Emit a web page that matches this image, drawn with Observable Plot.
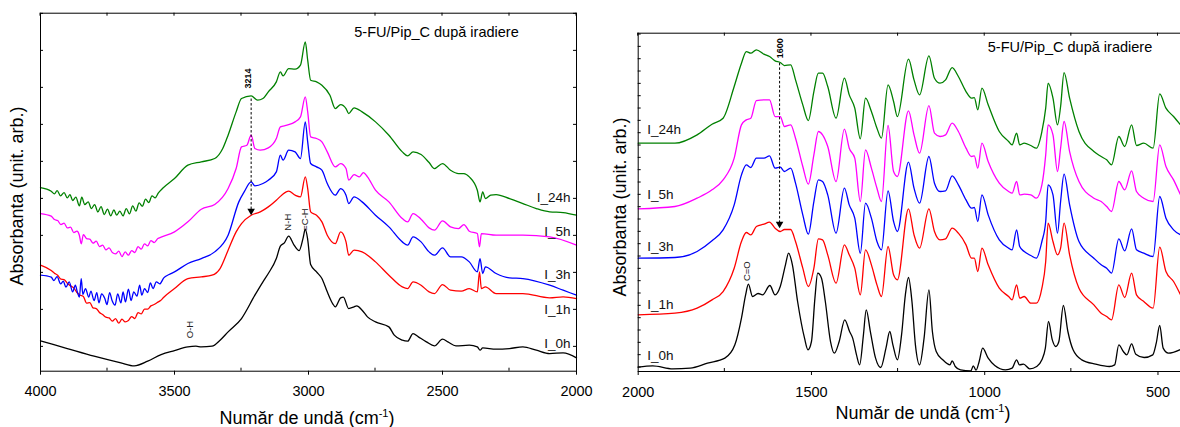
<!DOCTYPE html>
<html><head><meta charset="utf-8">
<script src="https://cdn.jsdelivr.net/npm/d3@7"></script>
<script src="https://cdn.jsdelivr.net/npm/@observablehq/plot@0.6"></script>
<style>
body{margin:0;background:#fff}
#wrap{position:relative;width:1180px;height:427px;overflow:hidden}
#wrap svg{position:absolute;top:0;overflow:visible;background:transparent}
</style>
</head><body><div id="wrap"></div>
<script>
// ---------- data: left panel (wavenumber cm-1, absorbance arb. units) ----------
const LEFT_XMAJOR = [4000, 3500, 3000, 2500, 2000];
const LEFT_XMINOR = [3750, 3250, 2750, 2250];
const RIGHT_XMAJOR = [2000, 1500, 1000, 500];
const RIGHT_XMINOR = [1750, 1250, 750];
const SERIES = ["I_0h", "I_1h", "I_3h", "I_5h", "I_24h"];
const COLORS = ["#000000", "#ff0000", "#0000ff", "#ff00ff", "#008000"];

const L_0h = [[4000,91],[3900,68],[3800,45],[3700,25],[3650,16],[3600,30],[3550,50],[3500,62],[3450,73],[3420,75],[3400,73],[3360,75],[3330,93],[3300,118],[3250,158],[3200,228],[3170,268],[3150,293],[3120,338],[3105,375],[3090,385],[3074,405],[3055,380],[3035,362],[3020,400],[3012,426],[3003,395],[2992,320],[2970,298],[2950,278],[2930,238],[2910,203],[2900,193],[2880,220],[2870,222],[2850,188],[2830,193],[2820,196],[2800,183],[2780,163],[2750,148],[2700,133],[2680,108],[2650,93],[2630,90],[2610,113],[2590,103],[2560,88],[2530,76],[2500,96],[2480,88],[2450,76],[2400,78],[2370,73],[2360,63],[2350,70],[2300,66],[2250,68],[2200,73],[2150,63],[2100,53],[2050,55],[2000,40]];
const L_1h = [[4000,318],[3960,302],[3948,294],[3936,288],[3924,276],[3912,275],[3900,264],[3888,256],[3876,250],[3864,236],[3852,228],[3840,224],[3828,204],[3816,206],[3804,190],[3792,188],[3780,176],[3768,170],[3756,162],[3744,160],[3732,150],[3720,158],[3708,144],[3696,156],[3684,148],[3672,152],[3660,164],[3648,158],[3636,176],[3624,172],[3612,186],[3600,186],[3588,196],[3576,200],[3564,206],[3552,212],[3540,222],[3500,248],[3450,278],[3400,283],[3360,288],[3330,308],[3300,363],[3270,418],[3250,443],[3214,468],[3180,478],[3150,493],[3120,513],[3100,528],[3074,540],[3050,528],[3030,523],[3012,583],[3003,548],[2992,478],[2970,468],[2950,448],[2930,408],[2900,383],[2880,418],[2860,388],[2850,348],[2830,363],[2800,358],[2750,328],[2700,288],[2650,253],[2630,248],[2610,268],[2580,258],[2550,238],[2530,233],[2500,260],[2470,243],[2430,240],[2400,248],[2370,238],[2362,298],[2355,248],[2340,253],[2300,233],[2200,233],[2100,220],[2050,223],[2000,218]];
const L_3h = [[4000,288],[3960,282],[3950,272],[3938,284],[3925,262],[3915,270],[3905,252],[3893,268],[3880,238],[3870,258],[3862,236],[3855,222],[3848,278],[3842,230],[3832,248],[3820,222],[3812,240],[3800,212],[3790,236],[3782,205],[3772,232],[3760,218],[3752,200],[3742,236],[3733,212],[3722,198],[3712,232],[3700,205],[3692,238],[3683,208],[3672,246],[3662,212],[3652,238],[3640,225],[3630,258],[3622,228],[3612,248],[3600,236],[3590,265],[3580,248],[3568,268],[3555,262],[3540,280],[3520,290],[3500,298],[3450,323],[3400,338],[3350,358],[3300,408],[3260,508],[3240,538],[3214,568],[3200,556],[3170,563],[3150,573],[3120,598],[3105,648],[3095,633],[3074,663],[3050,658],[3030,638],[3012,748],[3003,688],[2992,623],[2970,613],[2950,603],[2930,563],[2900,528],[2880,548],[2860,528],[2850,503],[2830,523],[2800,508],[2750,468],[2700,433],[2650,388],[2630,378],[2610,403],[2580,388],[2550,358],[2530,348],[2500,370],[2470,343],[2430,343],[2400,328],[2370,298],[2360,338],[2350,293],[2340,313],[2300,293],[2250,280],[2200,278],[2100,258],[2050,243],[2000,228]];
const L_5h = [[4000,473],[3960,465],[3948,455],[3936,452],[3924,440],[3912,444],[3900,430],[3888,432],[3876,416],[3864,420],[3855,408],[3848,382],[3840,410],[3828,398],[3816,396],[3804,384],[3792,390],[3780,374],[3768,378],[3756,364],[3744,370],[3732,356],[3720,352],[3708,360],[3696,344],[3684,358],[3672,348],[3660,362],[3648,356],[3636,374],[3624,366],[3612,382],[3600,376],[3588,392],[3576,386],[3562,398],[3550,402],[3500,418],[3450,448],[3400,486],[3350,500],[3300,548],[3270,608],[3250,673],[3230,678],[3214,708],[3200,668],[3180,663],[3150,670],[3120,698],[3105,733],[3080,738],[3050,748],[3030,763],[3012,823],[3003,778],[2992,703],[2970,698],[2950,688],[2930,658],[2900,613],[2880,623],[2860,608],[2850,573],[2830,590],[2810,583],[2795,596],[2780,583],[2750,543],[2700,508],[2650,458],[2630,448],[2610,473],[2580,456],[2550,430],[2530,423],[2500,451],[2470,433],[2440,428],[2420,440],[2400,420],[2370,413],[2362,373],[2355,413],[2300,408],[2200,408],[2100,403],[2000,378]];
const L_24h = [[4000,551],[3960,540],[3948,532],[3938,542],[3925,526],[3912,536],[3900,520],[3890,530],[3880,512],[3868,522],[3855,496],[3846,522],[3835,500],[3822,508],[3810,488],[3798,500],[3786,478],[3774,494],[3762,470],[3750,486],[3738,466],[3726,484],[3716,468],[3704,480],[3692,466],[3680,488],[3668,472],[3656,496],[3644,480],[3632,505],[3620,495],[3608,516],[3596,506],[3584,526],[3572,520],[3560,535],[3545,548],[3500,578],[3450,618],[3400,628],[3350,638],[3320,668],[3300,708],[3270,778],[3250,818],[3214,826],[3190,813],[3170,818],[3150,838],[3120,868],[3105,898],[3095,886],[3074,908],[3050,906],[3030,918],[3012,988],[3003,933],[2992,873],[2970,868],[2950,858],[2920,828],[2900,788],[2880,800],[2860,788],[2850,773],[2830,790],[2800,778],[2750,748],[2700,708],[2650,658],[2630,646],[2610,658],[2580,650],[2550,626],[2530,608],[2500,623],[2470,603],[2440,593],[2420,593],[2400,583],[2370,543],[2360,508],[2350,538],[2340,518],[2320,528],[2300,530],[2250,518],[2200,503],[2150,488],[2100,478],[2050,476],[2000,468]];

// ---------- data: right panel ----------
const R_0h = [[2000,13],[1958,17],[1900,8],[1850,10],[1800,25],[1750,40],[1721,80],[1702,160],[1690,230],[1682,262],[1670,225],[1654,234],[1641,230],[1620,258],[1605,230],[1590,255],[1575,320],[1566,355],[1555,320],[1540,210],[1520,100],[1510,65],[1500,90],[1490,220],[1482,295],[1471,280],[1460,210],[1445,90],[1434,55],[1420,90],[1404,155],[1390,120],[1381,100],[1370,50],[1361,20],[1350,110],[1342,185],[1330,120],[1315,40],[1300,12],[1285,70],[1274,120],[1265,80],[1252,35],[1240,110],[1229,230],[1220,282],[1210,210],[1200,80],[1188,20],[1175,100],[1161,245],[1151,120],[1140,60],[1121,35],[1100,20],[1094,32],[1085,15],[1070,5],[1040,2],[1033,17],[1025,4],[1016,30],[1006,70],[990,40],[971,18],[940,5],[921,10],[908,35],[900,20],[888,22],[870,8],[850,15],[835,35],[825,70],[816,150],[805,95],[795,75],[786,90],[773,198],[760,120],[745,65],[720,35],[680,22],[640,15],[625,20],[613,80],[600,60],[590,50],[576,83],[564,52],[540,42],[515,50],[505,85],[495,138],[485,70],[470,55],[435,66]];
const R_WN = [2000,1894,1830,1787,1755,1723,1702,1688,1675,1659,1637,1621,1605,1590,1578,1560,1546,1525,1509,1493,1480,1468,1453,1429,1405,1391,1375,1359,1344,1327,1311,1298,1279,1263,1252,1220,1204,1188,1161,1145,1129,1113,1094,1076,1054,1038,1030,1020,1008,990,958,931,921,908,899,886,867,851,835,824,817,803,790,781,771,755,728,685,664,648,634,613,596,576,562,541,514,495,477,455,435];
const R_1h = [170,175,190,215,240,310,390,417,410,435,442,448,430,420,426,426,390,310,255,310,398,395,350,265,380,350,310,230,365,320,260,225,375,290,275,488,410,370,488,420,395,398,430,415,380,340,340,300,370,320,250,225,215,260,220,225,205,205,250,330,445,390,350,370,445,350,250,200,175,165,155,260,222,295,230,210,190,373,300,270,230];
const R_3h = [340,342,360,392,425,500,590,620,612,640,640,647,610,613,600,610,565,470,412,510,575,570,530,415,550,500,460,355,505,460,390,365,542,450,420,628,550,505,645,565,540,542,587,560,515,490,492,450,530,470,395,370,365,425,375,360,348,340,390,450,560,530,415,510,592,500,390,340,320,310,295,398,362,428,365,355,345,525,460,425,410];
const R_5h = [488,495,520,545,575,640,740,755,760,813,815,815,765,765,735,740,700,615,562,650,720,710,675,570,727,670,640,510,665,610,550,510,738,600,585,782,710,655,798,715,705,710,745,720,670,645,647,610,685,630,565,540,535,570,530,532,530,520,560,650,740,710,600,670,750,660,570,520,510,495,480,570,545,602,540,520,510,680,615,575,530];
const R_24h = [685,685,710,742,760,855,925,960,955,965,952,945,932,927,918,920,875,800,753,840,895,895,855,760,880,830,790,698,820,780,730,700,860,810,765,937,875,830,947,880,865,875,912,885,840,820,822,785,850,800,720,690,680,715,680,685,678,670,720,790,865,820,740,795,897,820,720,660,645,635,620,705,675,740,678,685,670,833,790,765,740];

// label positions (absorbance units) and annotations
const LEFT_LABEL_Y = [83, 184, 289, 420, 520];
const RIGHT_LABEL_Y = [48, 202, 375, 531, 726];
const LEFT_NOTES = [{t:"O-H", wn:3444, a:125}, {t:"N-H", wn:3076, a:447}, {t:"=C-H", wn:3015, a:455}];
const LEFT_ARROW = {wn:3214, from:818, to:472, label:"3214", labelWn:3227, labelA:878};
const RIGHT_NOTES = [{t:"C=O", wn:1685, a:301}];
const RIGHT_ARROW = {wn:1592, from:926, to:434, label:"1600", labelWn:1590, labelA:970};
const TITLE = "5-FU/Pip_C după iradiere";
const YLABEL = "Absorbanta (unit. arb.)";

const FONT = '"Liberation Sans", Arial, Helvetica, sans-serif';
const toRows = arr => arr.map(([wn, a]) => ({wn, a}));
const gridRows = vals => vals.map((a, i) => ({wn: R_WN[i], a}));

function lineMarks(seriesRows) {
  return seriesRows.map((rows, i) => Plot.line(rows, {x:"wn", y:"a", stroke: COLORS[i], strokeWidth: 1.3, curve: "monotone-x"}));
}
function arrowMarks(ar) {
  return [
    Plot.link([ar], {x1:"wn", x2:"wn", y1:"from", y2:"to", stroke:"black", strokeWidth:1, strokeDasharray:"2.5,2"}),
    Plot.dot([ar], {x:"wn", y:"to", symbol:"triangle", rotate:180, r:2.8, fill:"black", stroke:"none", dy:-3}),
    Plot.text([ar], {x:"labelWn", y:"labelA", text:"label", rotate:-90, fontSize:9, fontWeight:"bold", lineAnchor:"middle", textAnchor:"middle", fill:"black"})
  ];
}
function noteMarks(notes) {
  return Plot.text(notes, {x:"wn", y:"a", text:"t", rotate:-90, fontSize:9.5, lineAnchor:"middle", textAnchor:"middle", fill:"#222"});
}

function decorate(plot, {minor, all, yStep, yStart, rightTicks, title, ylab, xlab}) {
  const sx = plot.scale("x"), sy = plot.scale("y");
  const [xl, xr] = sx.range; const [yb, yt] = sy.range;
  const svg = d3.select(plot);
  const g = svg.append("g").attr("stroke", "black").attr("stroke-width", 1);
  for (const v of minor) { const x = sx.apply(v); g.append("line").attr("x1", x).attr("x2", x).attr("y1", yb).attr("y2", yb - 3); }
  for (const v of all) { const x = sx.apply(v); g.append("line").attr("x1", x).attr("x2", x).attr("y1", yt).attr("y2", yt + 3); }
  for (const v of d3.range(yStart, sy.domain[1], yStep)) {
    const y = sy.apply(v);
    g.append("line").attr("x1", xl).attr("x2", xl + 3).attr("y1", y).attr("y2", y);
    if (rightTicks) g.append("line").attr("x1", xr).attr("x2", xr - 3).attr("y1", y).attr("y2", y);
  }
  const t = svg.append("g").attr("font-family", FONT).attr("fill", "black");
  t.append("text").attr("x", title[0]).attr("y", title[1]).attr("text-anchor", "middle").attr("font-size", 14.5).text(TITLE);
  t.append("text").attr("transform", `translate(${ylab[0]},${ylab[1]}) rotate(-90)`).attr("text-anchor", "middle").attr("font-size", 18).text(YLABEL);
  const xt = t.append("text").attr("x", xlab[0]).attr("y", xlab[1]).attr("text-anchor", "middle").attr("font-size", 18);
  xt.append("tspan").text("Număr de undă (cm");
  xt.append("tspan").attr("font-size", 11).attr("dy", -7).text("-1");
  xt.append("tspan").attr("dy", 7).text(")");
}

// ---------- left panel ----------
const leftRows = [L_0h, L_1h, L_3h, L_5h, L_24h].map(toRows);
const left = Plot.plot({
  width: 590, height: 427,
  marginLeft: 40, marginRight: 14, marginTop: 12.7, marginBottom: 56.3,
  x: {domain: [4000, 2000], axis: null},
  y: {domain: [0, 1074], axis: null},
  style: {fontFamily: FONT, background: "transparent", overflow: "visible"},
  marks: [
    ...lineMarks(leftRows),
    ...arrowMarks(LEFT_ARROW),
    noteMarks(LEFT_NOTES),
    Plot.text(SERIES.map((s, i) => ({s, a: LEFT_LABEL_Y[i]})), {frameAnchor:"right", y:"a", text:"s", dx:-6, textAnchor:"end", lineAnchor:"middle", fontSize:13.5, fill:"#111"}),
    Plot.frame({stroke:"black", strokeWidth:1}),
    Plot.axisX(LEFT_XMAJOR, {anchor:"bottom", tickSize:4, tickPadding:11, fontSize:14.5, tickFormat:"d", label:null, fill:"black"})
  ]
});
left.style.left = "0px";
document.getElementById("wrap").appendChild(left);
decorate(left, {minor: LEFT_XMINOR, all: [...LEFT_XMAJOR, ...LEFT_XMINOR], yStep: 111, yStart: 73, rightTicks: true,
  title: [436.5, 37], ylab: [23, 196], xlab: [307, 424]});

// ---------- right panel ----------
const rightRows = [toRows(R_0h), gridRows(R_1h), gridRows(R_3h), gridRows(R_5h), gridRows(R_24h)];
const right = Plot.plot({
  width: 590, height: 427,
  marginLeft: 47.7, marginRight: 0, marginTop: 32.7, marginBottom: 56,
  x: {domain: [2000, 435], axis: null},
  y: {domain: [0, 1015], axis: null},
  style: {fontFamily: FONT, background: "transparent", overflow: "visible"},
  marks: [
    ...lineMarks(rightRows),
    ...arrowMarks(RIGHT_ARROW),
    noteMarks(RIGHT_NOTES),
    Plot.text(SERIES.map((s, i) => ({s, a: RIGHT_LABEL_Y[i]})), {frameAnchor:"left", y:"a", text:"s", dx:9, textAnchor:"start", lineAnchor:"middle", fontSize:13.5, fill:"#111"}),
    Plot.ruleX([2000], {stroke:"black", strokeWidth:1}),
    Plot.ruleY([0, 1015], {stroke:"black", strokeWidth:1}),
    Plot.axisX(RIGHT_XMAJOR, {anchor:"bottom", tickSize:4, tickPadding:11, fontSize:14.5, tickFormat:"d", label:null, fill:"black"})
  ]
});
right.style.left = "590px";
document.getElementById("wrap").appendChild(right);
decorate(right, {minor: RIGHT_XMINOR, all: [...RIGHT_XMAJOR, ...RIGHT_XMINOR], yStep: 37, yStart: 12, rightTicks: false,
  title: [480, 52], ylab: [36, 207], xlab: [333, 419]});
</script></body></html>
